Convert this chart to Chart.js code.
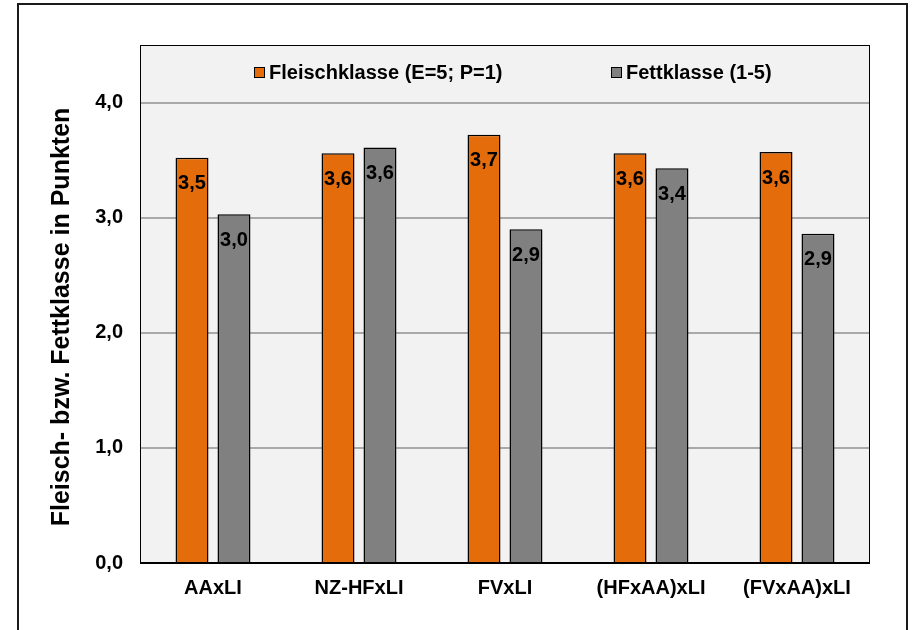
<!DOCTYPE html>
<html>
<head>
<meta charset="utf-8">
<script src="https://cdn.jsdelivr.net/npm/chart.js@4/dist/chart.umd.min.js"></script>
<style>
  html, body { margin: 0; padding: 0; background: #fff; }
  #wrap { position: relative; width: 913px; height: 630px; }
</style>
</head>
<body>
<div id="wrap"><canvas id="barChart"></canvas></div>
<script>
const categories = ['AAxLI', 'NZ-HFxLI', 'FVxLI', '(HFxAA)xLI', '(FVxAA)xLI'];
const fleischklasse = [3.52, 3.56, 3.72, 3.56, 3.57];
const fettklasse = [3.03, 3.61, 2.90, 3.43, 2.86];
const seriesLabels = ['Fleischklasse (E=5; P=1)', 'Fettklasse (1-5)'];
const yTicks = [0, 1, 2, 3, 4];
const yTitle = 'Fleisch- bzw. Fettklasse in Punkten';

const FONT = '"Liberation Sans", Arial, sans-serif';
const ORANGE = '#e46c0a';
const GREY = '#808080';

const fmt = v => v.toFixed(1).replace('.', ',');

// plot background, frame, outer border and y title
const framePlugin = {
  id: 'frame',
  beforeDraw(chart) {
    const {ctx, chartArea: a} = chart;
    ctx.save();
    ctx.fillStyle = '#f2f2f2';
    ctx.fillRect(a.left, a.top, a.right - a.left, a.bottom - a.top);
    ctx.restore();
  },
  afterDraw(chart) {
    const {ctx, chartArea: a} = chart;
    ctx.save();
    ctx.strokeStyle = '#000';
    ctx.lineWidth = 1;
    ctx.strokeRect(a.left + 0.5, a.top + 0.5, a.right - a.left - 1, a.bottom - a.top);
    ctx.lineWidth = 2;
    ctx.beginPath();
    ctx.moveTo(a.left, a.bottom);
    ctx.lineTo(a.right, a.bottom);
    ctx.stroke();
    ctx.strokeStyle = '#1a1a1a';
    ctx.lineWidth = 2;
    ctx.strokeRect(18, 4, 889, 700);

    // y axis title, a bit below the plot centre like the original
    ctx.translate(62, 317);
    ctx.rotate(-Math.PI / 2);
    ctx.font = 'bold 25px ' + FONT;
    ctx.fillStyle = '#000';
    ctx.textAlign = 'center';
    ctx.textBaseline = 'middle';
    ctx.fillText(yTitle, 0, 0);
    ctx.restore();
  }
};

// value labels inside the bar tops
const valuePlugin = {
  id: 'values',
  afterDatasetsDraw(chart) {
    const {ctx} = chart;
    ctx.save();
    ctx.font = 'bold 20px ' + FONT;
    ctx.fillStyle = '#000';
    ctx.textAlign = 'center';
    ctx.textBaseline = 'middle';
    chart.data.datasets.forEach((ds, i) => {
      chart.getDatasetMeta(i).data.forEach((bar, j) => {
        ctx.fillText(fmt(ds.data[j]), bar.x, bar.y + 26);
      });
    });
    ctx.restore();
  }
};

// legend drawn inside the plot area
const legendPlugin = {
  id: 'innerLegend',
  afterDraw(chart) {
    const {ctx} = chart;
    const xs = [254, 611];
    const y = 72;
    ctx.save();
    ctx.font = 'bold 20px ' + FONT;
    ctx.textBaseline = 'middle';
    ctx.textAlign = 'left';
    chart.data.datasets.forEach((ds, i) => {
      ctx.fillStyle = ds.backgroundColor;
      ctx.fillRect(xs[i], y - 5, 11, 11);
      ctx.strokeStyle = '#000';
      ctx.lineWidth = 1;
      ctx.strokeRect(xs[i] + 0.5, y - 4.5, 10, 10);
      ctx.fillStyle = '#000';
      ctx.fillText(ds.label, xs[i] + 15, y + 1);
    });
    ctx.restore();
  }
};

const config = {
  type: 'bar',
  data: {
    labels: categories,
    datasets: [
      {
        label: seriesLabels[0],
        data: fleischklasse,
        backgroundColor: ORANGE,
        borderColor: '#000',
        borderWidth: 1.5,
        categoryPercentage: 0.575,
        barPercentage: 0.786,
      },
      {
        label: seriesLabels[1],
        data: fettklasse,
        backgroundColor: GREY,
        borderColor: '#000',
        borderWidth: 1.5,
        categoryPercentage: 0.575,
        barPercentage: 0.786,
      },
    ],
  },
  options: {
    responsive: true,
    maintainAspectRatio: false,
    animation: false,
    layout: { padding: { top: 45, right: 43, bottom: 0, left: 0 } },
    plugins: {
      legend: { display: false },
      tooltip: { enabled: false },
    },
    scales: {
      x: {
        grid: { display: false, drawTicks: false },
        border: { display: false },
        ticks: {
          color: '#000',
          padding: 13,
          font: { family: FONT, size: 20, weight: 'bold' },
        },
        afterFit: s => { s.height = 67; },
      },
      y: {
        min: 0,
        max: 4.5,
        ticks: {
          stepSize: 1,
          color: '#000',
          padding: 17,
          font: { family: FONT, size: 20, weight: 'bold' },
          callback: v => fmt(v),
        },
        afterBuildTicks: s => {
          s.ticks = s.ticks.filter(t => yTicks.includes(t.value));
        },
        grid: { color: '#a9a9a9', lineWidth: 2, drawTicks: false },
        border: { display: false },
        afterFit: s => { s.width = 140; },
      },
    },
  },
  plugins: [framePlugin, valuePlugin, legendPlugin],
};

var myChart = new Chart(document.getElementById('barChart'), config);
</script>
</body>
</html>
